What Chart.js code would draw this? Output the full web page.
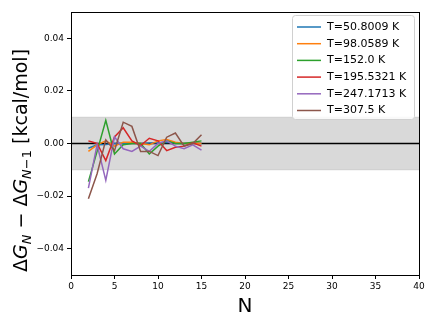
<!DOCTYPE html>
<html>
<head>
<meta charset="utf-8">
<script src="https://cdn.jsdelivr.net/npm/chart.js@4"></script>
<style>
  html, body { margin: 0; padding: 0; background: #fff; }
</style>
</head>
<body>
<canvas id="chart_root" width="436" height="327"></canvas>
<script>
const nValues = [2, 3, 4, 5, 6, 7, 8, 9, 10, 11, 12, 13, 14, 15];

const t50 = [-0.0018, -0.0005, -0.0004, 0.0, 0.0, 0.0002, 0.0, 0.0002, 0.0003, 0.0005, 0.0002, 0.0, 0.0002, 0.0];
const t98 = [-0.003, -0.0005, 0.001, -0.001, 0.0005, 0.0005, 0.0, -0.0005, 0.001, 0.0015, 0.0005, 0.0, 0.0002, 0.0];
const t152 = [-0.0145, -0.003, 0.0088, -0.004, -0.0005, 0.0, 0.0, -0.004, -0.001, 0.001, 0.0, 0.0, 0.0005, 0.001];
const t195 = [0.001, 0.0, -0.0065, 0.0025, 0.006, 0.001, -0.0008, 0.002, 0.001, -0.0027, -0.0014, -0.001, 0.0003, -0.001];
const t247 = [-0.017, -0.0005, -0.014, 0.0025, -0.002, -0.003, -0.001, -0.003, 0.0, 0.001, -0.001, -0.002, -0.0005, -0.0025];
const t307 = [-0.021, -0.0115, 0.0014, -0.0027, 0.0081, 0.0065, -0.003, -0.003, -0.0046, 0.0024, 0.004, -0.001, 0.0, 0.0033];

const seriesValues = [t50, t98, t152, t195, t247, t307];
const seriesLabels = ['T=50.8009 K', 'T=98.0589 K', 'T=152.0 K', 'T=195.5321 K', 'T=247.1713 K', 'T=307.5 K'];
const seriesColors = ['#1f77b4', '#ff7f0e', '#2ca02c', '#d62728', '#9467bd', '#8c564b'];

const xTicks = [0, 5, 10, 15, 20, 25, 30, 35, 40];
const yTicks = [-0.04, -0.02, 0, 0.02, 0.04];
const bandLimit = 0.01;

const fmtY = (v) => {
  const s = Math.abs(v).toFixed(2);
  return v < -1e-9 ? '\u2212' + s : s;
};

const seriesSets = seriesValues.map((vals, i) => ({
  label: seriesLabels[i],
  data: vals.map((y, k) => ({ x: nValues[k], y })),
  borderColor: seriesColors[i],
  borderWidth: 1.5,
  pointRadius: 0,
  tension: 0,
  fill: false,
  order: 6 - i
}));

const bandSets = [
  {
    label: 'band',
    data: [{ x: 0, y: bandLimit }, { x: 40, y: bandLimit }],
    borderColor: 'rgba(128,128,128,0.25)',
    borderWidth: 1,
    backgroundColor: 'rgba(128,128,128,0.3)',
    fill: { value: -bandLimit },
    pointRadius: 0,
    order: 20
  },
  {
    label: 'bandLow',
    data: [{ x: 0, y: -bandLimit }, { x: 40, y: -bandLimit }],
    borderColor: 'rgba(128,128,128,0.25)',
    borderWidth: 1,
    fill: false,
    pointRadius: 0,
    order: 19
  },
  {
    label: 'zero',
    data: [{ x: 0, y: 0 }, { x: 40, y: 0 }],
    borderColor: '#000',
    borderWidth: 1.5,
    fill: false,
    pointRadius: 0,
    order: 10
  }
];

// frame on all four sides, like matplotlib spines
const framePlugin = {
  id: 'frame',
  afterDraw(chart) {
    const { ctx, chartArea: a } = chart;
    ctx.save();
    ctx.strokeStyle = '#000';
    ctx.lineWidth = 1;
    ctx.strokeRect(Math.round(a.left) + 0.5, Math.round(a.top) + 0.5,
      Math.round(a.right - a.left), Math.round(a.bottom - a.top));
    ctx.restore();
  }
};

// y-axis title with subscripts
const yTitlePlugin = {
  id: 'yTitle',
  afterDraw(chart) {
    const { ctx, chartArea: a } = chart;
    const size = 19;
    const sub = 13;
    const fam = '"DejaVu Sans", sans-serif';
    const parts = [
      { t: '\u0394', f: `${size}px ${fam}`, dy: 0 },
      { t: 'G', f: `italic ${size}px ${fam}`, dy: 0 },
      { t: 'N', f: `italic ${sub}px ${fam}`, dy: 4 },
      { t: ' \u2212 \u0394', f: `${size}px ${fam}`, dy: 0 },
      { t: 'G', f: `italic ${size}px ${fam}`, dy: 0 },
      { t: 'N', f: `italic ${sub}px ${fam}`, dy: 4 },
      { t: '\u22121', f: `${sub}px ${fam}`, dy: 4 },
      { t: ' [kcal/mol]', f: `${size}px ${fam}`, dy: 0 }
    ];
    ctx.save();
    let total = 0;
    parts.forEach((p) => { ctx.font = p.f; p.w = ctx.measureText(p.t).width; total += p.w; });
    ctx.translate(27, (a.top + a.bottom) / 2 + 17);
    ctx.rotate(-Math.PI / 2);
    ctx.fillStyle = '#000';
    ctx.textBaseline = 'alphabetic';
    let x = -total / 2;
    parts.forEach((p) => {
      ctx.font = p.f;
      ctx.fillText(p.t, x, p.dy);
      x += p.w;
    });
    ctx.restore();
  }
};

// legend box inside the plot, top right
const legendPlugin = {
  id: 'insideLegend',
  afterDraw(chart) {
    const { ctx, chartArea: a } = chart;
    const boxW = 122, rowH = 16.7, boxH = 104;
    const x0 = a.right - boxW - 5, y0 = a.top + 3;
    ctx.save();
    ctx.fillStyle = 'rgba(255,255,255,0.85)';
    ctx.strokeStyle = '#d0d0d0';
    ctx.lineWidth = 1;
    ctx.beginPath();
    ctx.roundRect(x0 + 0.5, y0 + 0.5, boxW, boxH, 3);
    ctx.fill();
    ctx.stroke();
    ctx.font = '11px "DejaVu Sans", sans-serif';
    ctx.textBaseline = 'middle';
    seriesLabels.forEach((lab, i) => {
      const y = y0 + 12 + i * rowH;
      ctx.strokeStyle = seriesColors[i];
      ctx.lineWidth = 1.5;
      ctx.beginPath();
      ctx.moveTo(x0 + 5, y);
      ctx.lineTo(x0 + 29, y);
      ctx.stroke();
      ctx.fillStyle = '#000';
      ctx.fillText(lab, x0 + 35, y);
    });
    ctx.restore();
  }
};

new Chart(document.getElementById('chart_root'), {
  type: 'line',
  data: { datasets: [...bandSets, ...seriesSets] },
  plugins: [framePlugin, yTitlePlugin, legendPlugin],
  options: {
    responsive: false,
    devicePixelRatio: 1,
    animation: false,
    layout: { padding: { left: 0, right: 17, top: 12, bottom: 0 } },
    plugins: { legend: { display: false }, tooltip: { enabled: false } },
    scales: {
      x: {
        type: 'linear',
        min: 0,
        max: 40,
        afterBuildTicks: (s) => { s.ticks = xTicks.map((v) => ({ value: v })); },
        afterFit: (s) => { s.height = 52; },
        grid: { drawOnChartArea: false, drawTicks: true, tickLength: 4, color: '#000' },
        border: { display: true, color: '#000', width: 1 },
        ticks: { color: '#000', font: { size: 9, family: '"DejaVu Sans", sans-serif' }, padding: 2, maxRotation: 0 },
        title: { display: true, text: 'N', color: '#000', font: { size: 20, family: '"DejaVu Sans", sans-serif' }, padding: { top: 0, bottom: 8 } }
      },
      y: {
        min: -0.05,
        max: 0.05,
        afterBuildTicks: (s) => { s.ticks = yTicks.map((v) => ({ value: v })); },
        afterFit: (s) => { s.width = 71; },
        grid: { drawOnChartArea: false, drawTicks: true, tickLength: 4, color: '#000' },
        border: { display: true, color: '#000', width: 1 },
        ticks: { color: '#000', font: { size: 9, family: '"DejaVu Sans", sans-serif' }, padding: 3, callback: fmtY }
      }
    }
  }
});
</script>
</body>
</html>
